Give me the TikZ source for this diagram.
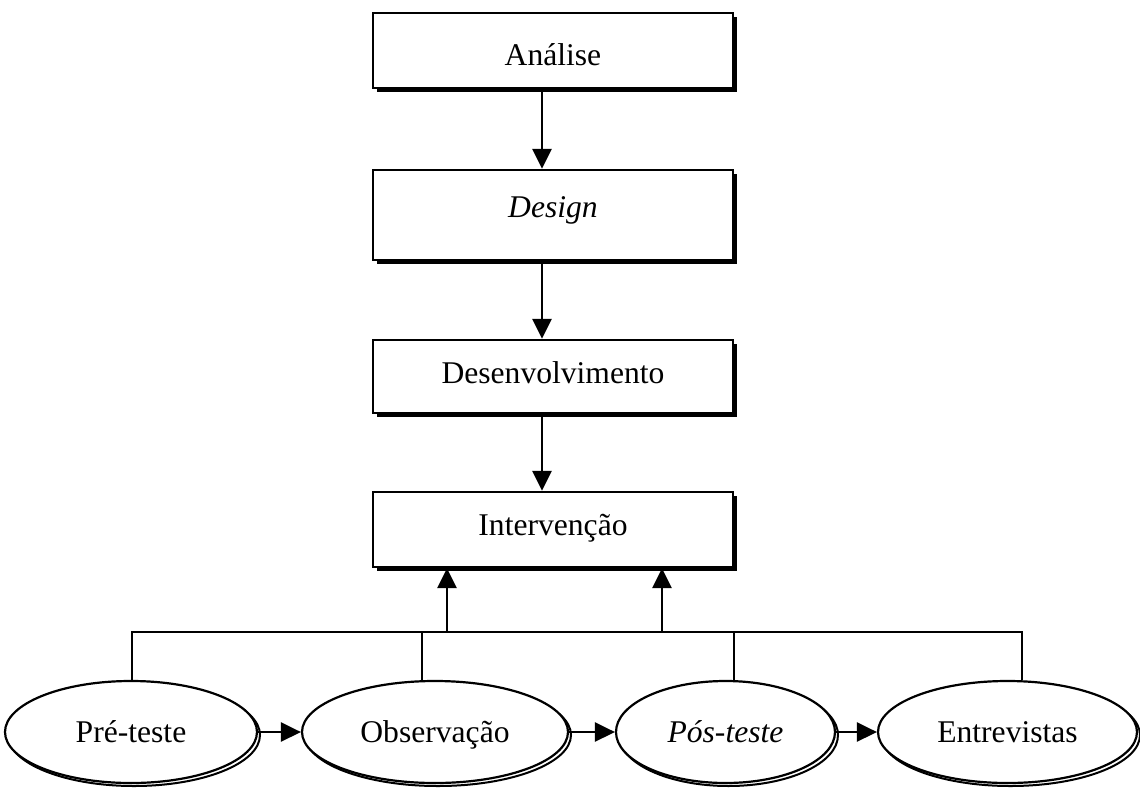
\documentclass[tikz,border=0pt]{standalone}
\usepackage{fontspec}
\setmainfont{Liberation Serif}
\usetikzlibrary{arrows.meta,shapes.geometric,shadows}
\begin{document}
\begin{tikzpicture}[x=0.5pt,y=-0.5pt,
  box/.style={draw=black, line width=1.2pt, fill=white, minimum width=180pt, inner sep=0pt,
    drop shadow={shadow xshift=2pt, shadow yshift=-2pt, fill=black, opacity=1}},
  lbl/.style={anchor=base, font=\fontsize{15.8}{18}\selectfont, inner sep=0pt},
  oval/.style={ellipse, draw=black, line width=1.1pt, fill=white, inner sep=0pt,
    minimum height=51pt, font=\fontsize{15.8}{18}\selectfont,
    text height=10.5pt, text depth=0pt,
    general shadow={shadow xshift=1.5pt, shadow yshift=-1.5pt, draw=black, fill=white, line width=1pt}},
  conn/.style={draw=black, line width=1.4pt},
  arr/.style={conn, -{Triangle[length=10pt,width=9.5pt]}}]
\useasboundingbox (0,0) rectangle (1140,787);

% boxes
\node[box, minimum height=37.5pt] (an) at (553,50.5) {};
\node[lbl] (anl) at (553,65) {Análise};
\node[box, minimum height=45pt] (de) at (553,215) {};
\node[lbl] (del) at (553,217) {\itshape Design};
\node[box, minimum height=36.5pt] (dv) at (553,376.5) {};
\node[lbl] (dvl) at (553,383) {Desenvolvimento};
\node[box, minimum height=37.5pt] (iv) at (553,529.5) {};
\node[lbl] (ivl) at (553,535) {Intervenção};

% ellipses
\node[oval, minimum width=126pt] (pre) at (131,732) {Pré-teste};
\node[oval, minimum width=133pt] (obs) at (435,732) {Observação};
\node[oval, minimum width=109.5pt] (pos) at (725.5,732) {\itshape Pós-teste};
\node[oval, minimum width=129.5pt] (ent) at (1007.5,732) {Entrevistas};

% vertical chain
\coordinate (ax) at (542,0);
\draw[arr] (an.south -| ax) -- (de.north -| ax);
\draw[arr] (de.south -| ax) -- (dv.north -| ax);
\draw[arr] (dv.south -| ax) -- (iv.north -| ax);

% bus
\coordinate (b1) at (132,632);
\coordinate (b2) at (422,632);
\coordinate (b3) at (734,632);
\coordinate (b4) at (1022,632);
\coordinate (u1) at (447,632);
\coordinate (u2) at (662,632);
\draw[conn] (pre.north -| b1) -- (b1) -- (b4) -- (ent.north -| b4);
\draw[conn] (b2) -- (obs.north -| b2);
\draw[conn] (b3) -- (pos.north -| b3);
\draw[arr] (u1) -- (iv.south -| u1);
\draw[arr] (u2) -- (iv.south -| u2);

% horizontal arrows
\draw[arr] (pre) -- (obs);
\draw[arr] (obs) -- (pos);
\draw[arr] (pos) -- (ent);
\end{tikzpicture}
\end{document}
